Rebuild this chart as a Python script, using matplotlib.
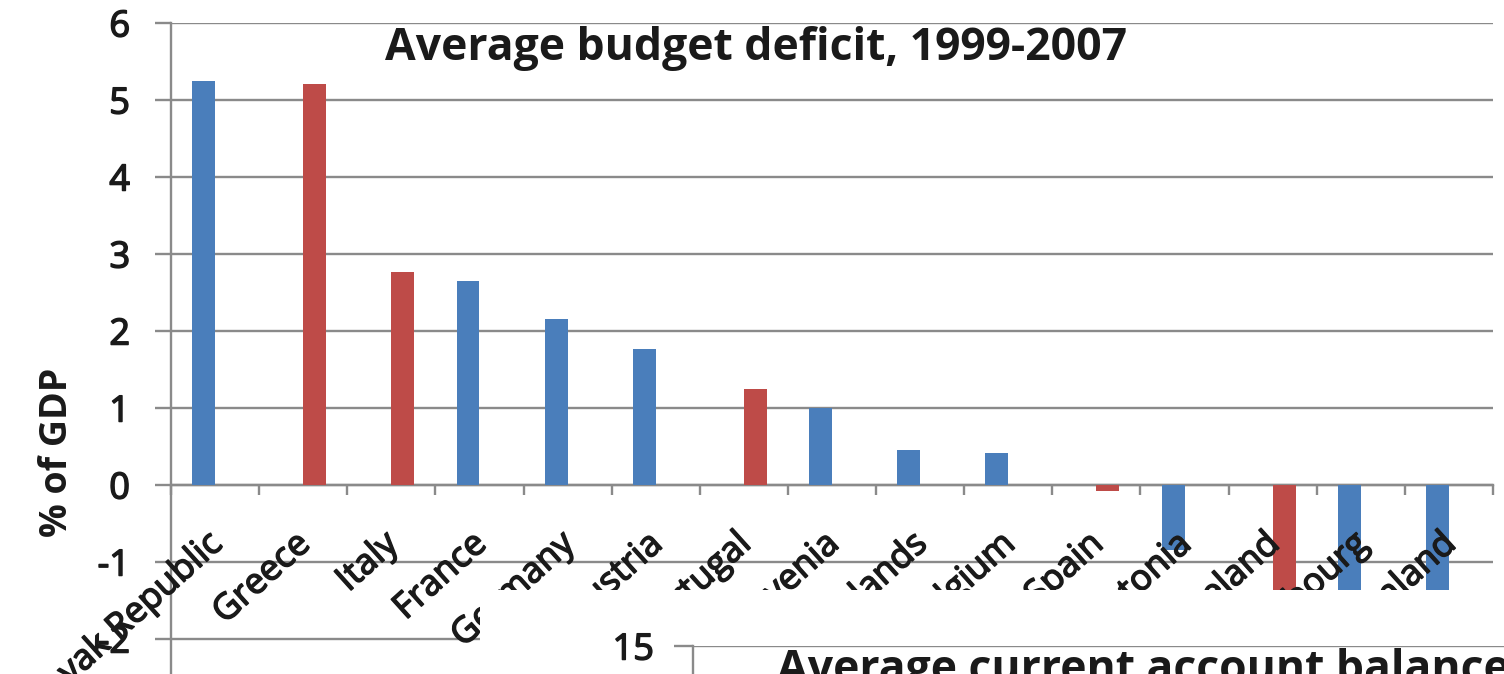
import matplotlib
matplotlib.use('Agg')
import matplotlib.pyplot as plt
import matplotlib.transforms as mtransforms
import matplotlib.patheffects as pe
from matplotlib.patches import Rectangle
import numpy as np

# data (% of GDP, average 1999-2007)
countries = ['Slovak Republic', 'Greece', 'Italy', 'France', 'Germany', 'Austria',
             'Portugal', 'Slovenia', 'Netherlands', 'Belgium', 'Spain', 'Estonia',
             'Ireland', 'Luxembourg', 'Finland']
deficit = [5.25, 5.21, 2.77, 2.65, 2.15, 1.77, 1.25, 1.0, 0.45, 0.41, -0.08, -0.85,
           -1.6, -2.3, -3.6]
periphery = [False, True, True, False, False, False, True, False, False, False,
             True, False, True, False, False]
yticks_top = list(range(-4, 7))
yticks_bottom = list(range(-20, 16, 5))

BLUE = '#4a7ebb'
RED = '#be4b48'
GRID = '#8a8a8a'
TXT = '#1a1a1a'
heavy = [pe.withStroke(linewidth=1.1, foreground=TXT)]

plt.rcParams['font.family'] = ['Open Sans', 'DejaVu Sans']
plt.rcParams['axes.unicode_minus'] = False

W, H = 1504, 674
fig = plt.figure(figsize=(W / 100, H / 100), dpi=100)

def fx(px):
    return px / W

def fy(py):
    return 1 - py / H

# --- top chart ---
ax = fig.add_axes([fx(171), fy(793), fx(1493 - 171), (793 - 23) / H])
x = np.arange(len(countries))
off = np.where(periphery, 0.13, -0.13)
cols = [RED if p else BLUE for p in periphery]
ax.bar(x + off, deficit, width=0.26, color=cols, zorder=3)

ax.set_xlim(-0.5, len(countries) - 0.5)
ax.set_ylim(-4, 6)
ax.set_yticks(yticks_top)
ax.yaxis.grid(True, color=GRID, lw=1.7)
ax.set_axisbelow(True)
for s in ['top', 'right']:
    ax.spines[s].set_visible(False)
ax.spines['left'].set_color(GRID)
ax.spines['left'].set_linewidth(1.7)
ax.spines['bottom'].set_position(('data', 0))
ax.spines['bottom'].set_color(GRID)
ax.spines['bottom'].set_linewidth(1.7)
ax.tick_params(axis='y', length=11.5, width=1.7, color=GRID, pad=18,
               labelsize=26, labelcolor=TXT)
for t in ax.get_yticklabels():
    t.set_path_effects(heavy)
ax.set_xticks(np.arange(-0.5, len(countries), 1))
ax.tick_params(axis='x', length=7, width=1.7, color=GRID, labelbottom=False)

shift = mtransforms.ScaledTranslation(-9 / 100, -42 / 100, fig.dpi_scale_trans)
for i, name in enumerate(countries):
    ax.text(i, 0, name, transform=ax.transData + shift, rotation=42,
            rotation_mode='anchor', ha='right', va='top', fontsize=25.5,
            color=TXT, path_effects=heavy)

fig.text(fx(385), fy(60), 'Average budget deficit, 1999-2007', fontsize=32,
         fontweight='bold', color=TXT, va='baseline')
fig.text(fx(57), fy(452), '% of GDP', rotation=90, ha='center', va='center',
         fontsize=27, fontweight='bold', color=TXT)

# --- second chart pasted over the bottom ---
fig.patches.append(Rectangle((fx(480), 0), 1 - fx(480), fy(590),
                             transform=fig.transFigure, facecolor='white',
                             edgecolor='none', zorder=1))
ax2 = fig.add_axes([fx(693), fy(1000), fx(1700 - 693), (1000 - 646) / H])
ax2.set_zorder(2)
ax2.set_ylim(-20, 15)
ax2.set_yticks(yticks_bottom)
ax2.yaxis.grid(True, color=GRID, lw=1.7)
for s in ['top', 'right', 'bottom']:
    ax2.spines[s].set_visible(False)
ax2.spines['left'].set_color(GRID)
ax2.spines['left'].set_linewidth(1.7)
ax2.set_xticks([])
ax2.tick_params(axis='y', length=14, width=1.7, color=GRID, pad=14,
                labelsize=26, labelcolor=TXT)
for t in ax2.get_yticklabels():
    t.set_path_effects(heavy)
fig.text(fx(777), fy(682), 'Average current account balance', fontsize=32,
         fontweight='bold', color=TXT, va='baseline', zorder=4)

fig.savefig('out.png', dpi=100)
